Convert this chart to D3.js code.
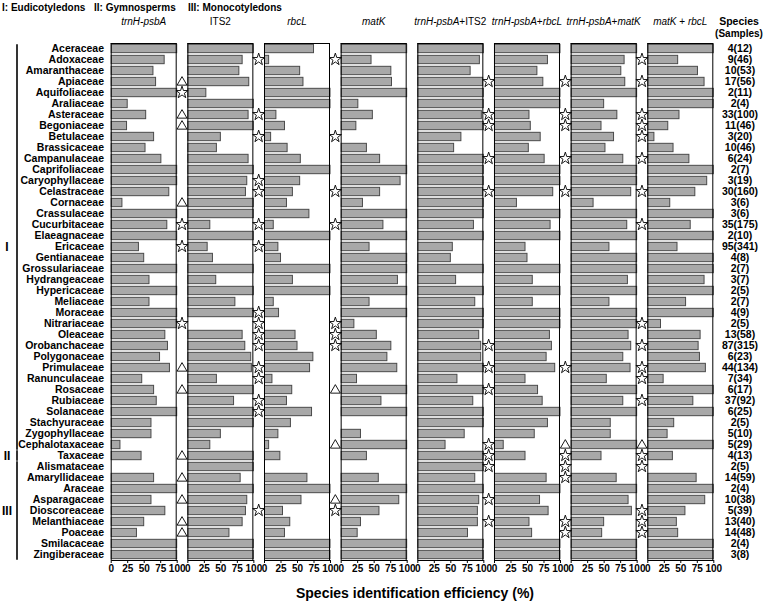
<!DOCTYPE html>
<html><head><meta charset="utf-8">
<script src="https://cdn.jsdelivr.net/npm/d3@7"></script>
<style>body{margin:0;background:#fff}svg{display:block}text{font-family:Arial,"Liberation Sans",sans-serif}</style>
</head><body><svg id="c" width="765" height="605"></svg>
<script>
const families = ["Aceraceae","Adoxaceae","Amaranthaceae","Apiaceae","Aquifoliaceae","Araliaceae","Asteraceae","Begoniaceae","Betulaceae","Brassicaceae","Campanulaceae","Caprifoliaceae","Caryophyllaceae","Celastraceae","Cornaceae","Crassulaceae","Cucurbitaceae","Elaeagnaceae","Ericaceae","Gentianaceae","Grossulariaceae","Hydrangeaceae","Hypericaceae","Meliaceae","Moraceae","Nitrariaceae","Oleaceae","Orobanchaceae","Polygonaceae","Primulaceae","Ranunculaceae","Rosaceae","Rubiaceae","Solanaceae","Stachyuraceae","Zygophyllaceae","Cephalotaxaceae","Taxaceae","Alismataceae","Amaryllidaceae","Araceae","Asparagaceae","Dioscoreaceae","Melanthiaceae","Poaceae","Smilacaceae","Zingiberaceae"];
const samples = ["4(12)","9(46)","10(53)","17(56)","2(11)","2(4)","33(100)","11(46)","3(20)","10(46)","6(24)","2(7)","3(19)","30(160)","3(6)","3(6)","35(175)","2(10)","95(341)","4(8)","2(7)","3(7)","2(5)","2(7)","4(9)","2(5)","13(58)","87(315)","6(23)","44(134)","7(34)","6(17)","37(92)","6(25)","2(5)","5(10)","5(29)","4(13)","2(5)","14(59)","2(4)","10(38)","5(39)","13(40)","14(48)","2(4)","3(8)"];
const panels = ["trnH-psbA","ITS2","rbcL","matK","trnH-psbA+ITS2","trnH-psbA+rbcL","trnH-psbA+matK","matK + rbcL"];
const italicNames = ["trnH-psbA","rbcL","matK"];
const tickValues = [0,25,50,75,100];

const vTrnH = [100,81,64,68,100,25,53,24,65,52,76,100,100,88,17,100,85,100,42,50,100,58,100,58,100,100,82,86,74,89,47,65,69,100,61,61,14,46,0,65,100,61,82,50,39,100,100];
const vITS2 = [100,83,78,93,28,100,92,100,50,44,92,100,90,88,100,100,34,100,30,38,100,43,100,72,100,0,83,87,96,97,44,100,70,100,100,50,34,100,100,80,100,90,88,83,63,100,100];
const vRbcL = [75,7,54,59,100,100,18,31,10,35,55,100,54,43,34,68,14,100,21,25,100,43,100,14,22,0,47,50,74,69,12,42,34,72,40,21,7,24,0,65,100,56,28,39,31,100,100];
const vMatK = [100,46,76,77,100,26,48,23,0,39,59,100,90,59,33,100,64,100,43,100,100,86,100,43,100,20,54,76,70,85,24,100,61,100,0,30,100,39,0,57,100,88,58,30,25,100,100];
const vTrnHITS2 = [100,94,80,99,100,100,97,100,66,55,100,100,100,99,100,100,85,100,53,50,100,58,100,87,100,100,93,96,96,100,60,100,84,100,100,71,42,100,100,87,100,93,91,91,76,100,100];
const vTrnHRbcL = [100,81,65,74,100,100,53,55,70,52,76,100,100,89,34,100,85,100,47,50,100,58,100,58,100,100,84,87,79,92,47,66,73,100,81,61,14,47,0,79,100,69,82,53,57,100,100];
const vTrnHMatK = [100,81,76,82,100,50,70,46,65,52,79,100,100,91,34,100,85,100,58,100,100,86,100,58,100,100,87,91,79,90,54,100,79,100,60,60,100,46,0,69,100,87,92,50,47,100,100];
const vMatKRbcL = [100,46,76,86,100,100,48,31,10,39,63,100,90,72,34,100,65,100,45,100,100,86,100,58,100,20,80,77,79,88,24,100,69,100,40,30,100,38,0,74,100,87,57,44,46,100,100];
const series = [vTrnH,vITS2,vRbcL,vMatK,vTrnHITS2,vTrnHRbcL,vTrnHMatK,vMatKRbcL];

// markers drawn in the gap to the left of each panel (row indices)
const starRows = [[],[4,16,18,25],[1,6,8,12,13,16,18,24,25,26,27,29,30,32,33,42],[1,8,13,16,25,26,27,42],[],[3,6,7,10,13,27,29,31,36,37,38,41,43],[3,6,7,10,13,29,37,38,39,43,44],[1,3,6,7,8,10,13,16,25,27,29,30,32,37,38,42,43,44]];
const triangleRows = [[],[3,6,7,14,29,31,37,39,41,43,44],[],[31,36,41],[],[],[36],[36]];

const groupLegend = ["I: Eudicotyledons","II: Gymnosperms","III: Monocotyledons"];
const groupLabels = ["I","II","III"];
const groupFirst = [0,37,38];
const groupLast = [36,37,46];

const svg = d3.select("#c");
const yTop = 43, yBottom = 560;
const xp = d3.scaleBand().domain(d3.range(panels.length)).range([110.7,713.3]).paddingInner(0.139);
const y = d3.scaleBand().domain(d3.range(families.length)).range([yTop,yBottom]).paddingInner(0.24).paddingOuter(0.12);
const yc = i => y(i) + y.bandwidth()/2;
const xv = d3.scaleLinear().domain([0,100]).range([0,xp.bandwidth()]);
const gapHalf = (xp.step()-xp.bandwidth())/2;

// group legend
const legX = [2,94,188];
svg.selectAll("text.leg").data(groupLegend).join("text").attr("class","leg")
  .attr("x",(d,i)=>legX[i]).attr("y",11).attr("font-size",10).attr("font-weight","bold").text(d=>d);

// panel titles
panels.forEach((p,k)=>{
  const t = svg.append("text").attr("x",xp(k)+xp.bandwidth()/2).attr("y",24.5)
    .attr("text-anchor","middle").attr("font-size",10);
  const parts = p.split(/(\s*\+\s*)/);
  parts.forEach(s=>{
    t.append("tspan").attr("font-style",italicNames.includes(s)?"italic":"normal").text(s);
  });
});
svg.append("text").attr("x",739).attr("y",24.5).attr("text-anchor","middle").attr("font-size",10.5).attr("font-weight","bold").text("Species");
svg.append("text").attr("x",739).attr("y",36.5).attr("text-anchor","middle").attr("font-size",10).attr("font-weight","bold").text("(Samples)");

// family labels
svg.selectAll("text.fam").data(families).join("text").attr("class","fam")
  .attr("x",104).attr("y",(d,i)=>yc(i)).attr("dy","0.36em").attr("text-anchor","end")
  .attr("font-size",10.5).attr("font-weight","bold").text(d=>d);
// samples
svg.selectAll("text.smp").data(samples).join("text").attr("class","smp")
  .attr("x",740).attr("y",(d,i)=>yc(i)).attr("dy","0.36em").attr("text-anchor","middle")
  .attr("font-size",10.5).attr("font-weight","bold").text(d=>d);

// panels
series.forEach((vals,k)=>{
  const g = svg.append("g").attr("transform",`translate(${xp(k)},0)`);
  g.selectAll("rect").data(vals.map((v,i)=>({v,i})).filter(d=>d.v>0)).join("rect")
    .attr("x",0.5).attr("y",d=>y(d.i)).attr("width",d=>Math.max(0,xv(d.v)-0.5)).attr("height",y.bandwidth())
    .attr("fill","#a8a8a8").attr("stroke","#4a4a4a").attr("stroke-width",1);
  g.append("line").attr("x1",0.5).attr("x2",0.5).attr("y1",yTop).attr("y2",yBottom).attr("stroke","#000");
  g.append("line").attr("x1",xv(100)-0.5).attr("x2",xv(100)-0.5).attr("y1",yTop).attr("y2",yBottom).attr("stroke","#000");
  g.append("line").attr("x1",0).attr("x2",xv(100)).attr("y1",yTop+0.5).attr("y2",yTop+0.5).attr("stroke","#000");
  const ax = g.append("g").attr("transform",`translate(0,${yBottom})`)
    .call(d3.axisBottom(xv).tickValues(tickValues).tickSize(3).tickSizeOuter(0).tickPadding(2));
  ax.select(".domain").attr("stroke","#000");
  ax.selectAll("text").attr("font-size",10).attr("font-weight","bold").attr("fill","#000").attr("font-family","Arial, Liberation Sans, sans-serif");
  // markers
  const mx = -gapHalf;
  g.selectAll("path.star").data(starRows[k]).join("path").attr("class","star")
    .attr("transform",r=>`translate(${mx},${yc(r)})`).attr("d",d3.symbol().type(d3.symbolStar).size(46))
    .attr("fill","#fff").attr("stroke","#000").attr("stroke-width",0.9);
  g.selectAll("path.tri").data(triangleRows[k]).join("path").attr("class","tri")
    .attr("transform",r=>`translate(${mx},${yc(r)+0.8})`).attr("d",d3.symbol().type(d3.symbolTriangle).size(42))
    .attr("fill","#fff").attr("stroke","#000").attr("stroke-width",0.9);
});

// group brackets
groupLabels.forEach((lab,i)=>{
  const y1 = y(groupFirst[i]) - (i===0?0:1), y2 = y(groupLast[i]) + y.bandwidth() + 1;
  svg.append("line").attr("x1",17).attr("x2",17).attr("y1",y1).attr("y2",y2).attr("stroke","#000").attr("stroke-width",1.6);
  svg.append("text").attr("x",7).attr("y",(y1+y2)/2).attr("dy","0.36em").attr("text-anchor","middle")
    .attr("font-size",12).attr("font-weight","bold").text(lab);
});

svg.append("text").attr("x",415).attr("y",598).attr("text-anchor","middle").attr("font-size",14).attr("font-weight","bold")
  .text("Species identification efficiency (%)");
</script></body></html>
